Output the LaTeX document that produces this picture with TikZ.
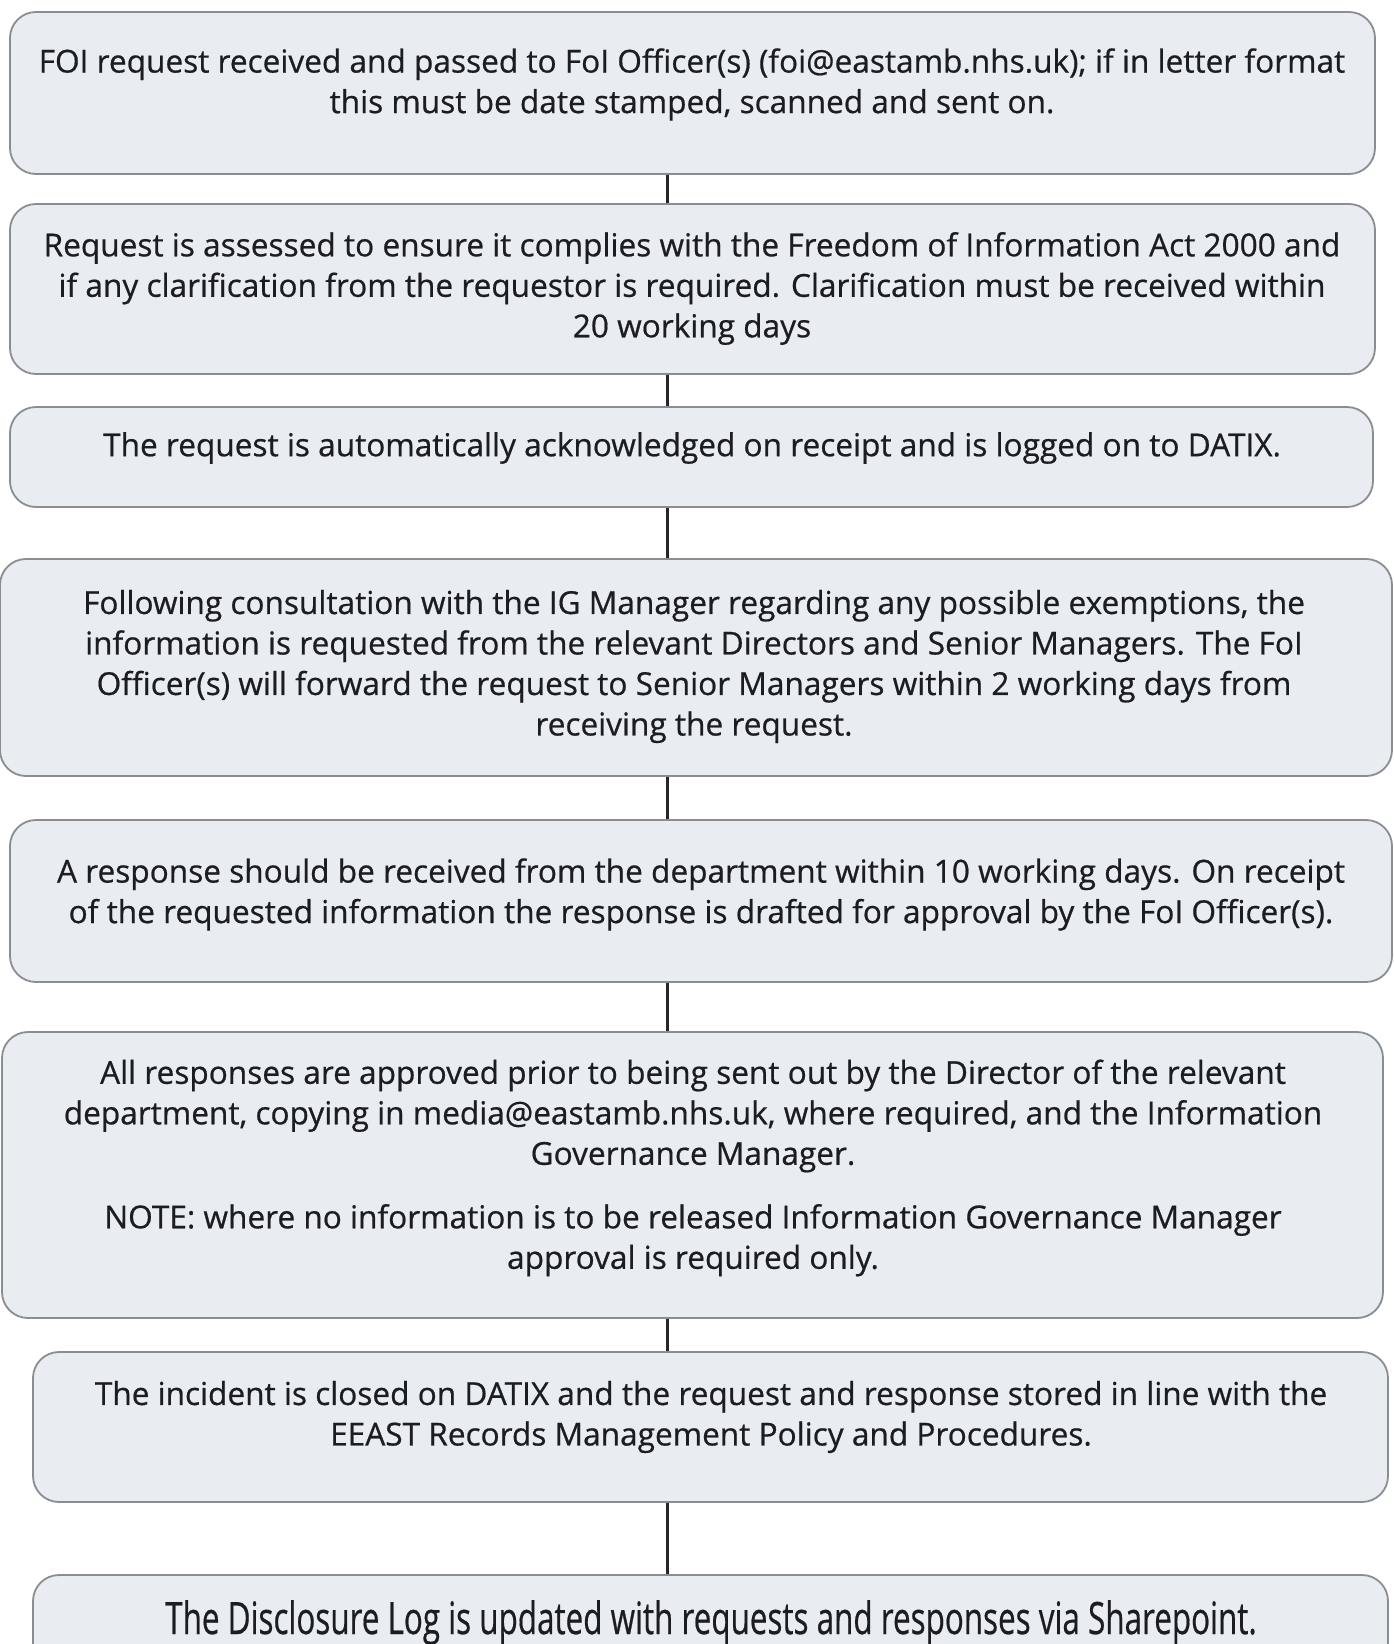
\documentclass[tikz,border=0pt]{standalone}
\usepackage{graphicx}
\usepackage{fontspec}
\setmainfont{Open Sans}
\newfontfamily\stepfont{Open Sans}[FakeBold=0.6]
\definecolor{boxfill}{HTML}{E9EDF1}
\definecolor{boxline}{HTML}{8A8E92}
\definecolor{inkgrey}{HTML}{1C1C24}
\tikzset{
  stepbox/.style={draw=boxline, fill=boxfill, line width=1.8pt, rounded corners=26pt},
  steptext/.style={text=inkgrey, align=center, inner sep=0pt, yshift=-4pt,
    font=\stepfont\fontsize{31.6}{40.5}\selectfont},
  link/.style={draw=black!85, line width=3pt}
}
\begin{document}
\begin{tikzpicture}[x=1pt, y=-1pt]
  \clip (0,0) rectangle (1394,1644);
  \fill[white] (0,0) rectangle (1394,1644);
  \coordinate (spine) at (667,0);

  \node[stepbox, minimum width=1365pt, minimum height=162pt] (received) at (692.5,93) {};
  \node[stepbox, minimum width=1365pt, minimum height=170pt] (assessed) at (692.5,289) {};
  \node[stepbox, minimum width=1363pt, minimum height=100pt] (logged) at (691.5,457) {};
  \node[stepbox, minimum width=1392pt, minimum height=217pt] (consulted) at (696,667.5) {};
  \node[stepbox, minimum width=1382pt, minimum height=162pt] (drafted) at (701,901) {};
  \node[stepbox, minimum width=1381pt, minimum height=286pt] (approved) at (692.5,1175) {};
  \node[stepbox, minimum width=1355pt, minimum height=150pt] (closed) at (710.5,1427) {};
  \node[stepbox, minimum width=1355pt, minimum height=140pt] (disclosed) at (710.5,1645) {};

  \node[steptext] (received-t) at (692,80.5) {FOI request received and passed to FoI Officer(s) (foi@eastamb.nhs.uk); if in letter format\\
    this must be date stamped, scanned and sent on.};
  \node[steptext] (assessed-t) at (692,284.5) {Request is assessed to ensure it complies with the Freedom of Information Act 2000 and\\
    if any clarification from the requestor is required. Clarification must be received within\\
    20 working days};
  \node[steptext] (logged-t) at (692,444) {The request is automatically acknowledged on receipt and is logged on to DATIX.};
  \node[steptext] (consulted-t) at (694,662.5) {Following consultation with the IG Manager regarding any possible exemptions, the\\
    information is requested from the relevant Directors and Senior Managers. The FoI\\
    Officer(s) will forward the request to Senior Managers within 2 working days from\\
    receiving the request.};
  \node[steptext] (drafted-t) at (701,890.5) {A response should be received from the department within 10 working days. On receipt\\
    of the requested information the response is drafted for approval by the FoI Officer(s).};
  \node[steptext] (approved-t) at (693,1164) {All responses are approved prior to being sent out by the Director of the relevant\\
    department, copying in media@eastamb.nhs.uk, where required, and the Information\\
    Governance Manager.\\[23pt]
    NOTE: where no information is to be released Information Governance Manager\\
    approval is required only.};
  \node[steptext] (closed-t) at (711,1413) {The incident is closed on DATIX and the request and response stored in line with the\\
    EEAST Records Management Policy and Procedures.};
  \node[steptext, anchor=base, yshift=0pt, font=\stepfont\fontsize{31.4}{40.5}\selectfont] (disclosed-t) at (711,1630)
    {\scalebox{1}[1.42]{The Disclosure Log is updated with requests and responses via Sharepoint.}};

  \draw[link] (received.south -| spine) -- (assessed.north -| spine);
  \draw[link] (assessed.south -| spine) -- (logged.north -| spine);
  \draw[link] (logged.south -| spine) -- (consulted.north -| spine);
  \draw[link] (consulted.south -| spine) -- (drafted.north -| spine);
  \draw[link] (drafted.south -| spine) -- (approved.north -| spine);
  \draw[link] (approved.south -| spine) -- (closed.north -| spine);
  \draw[link] (closed.south -| spine) -- (disclosed.north -| spine);
\end{tikzpicture}
\end{document}
